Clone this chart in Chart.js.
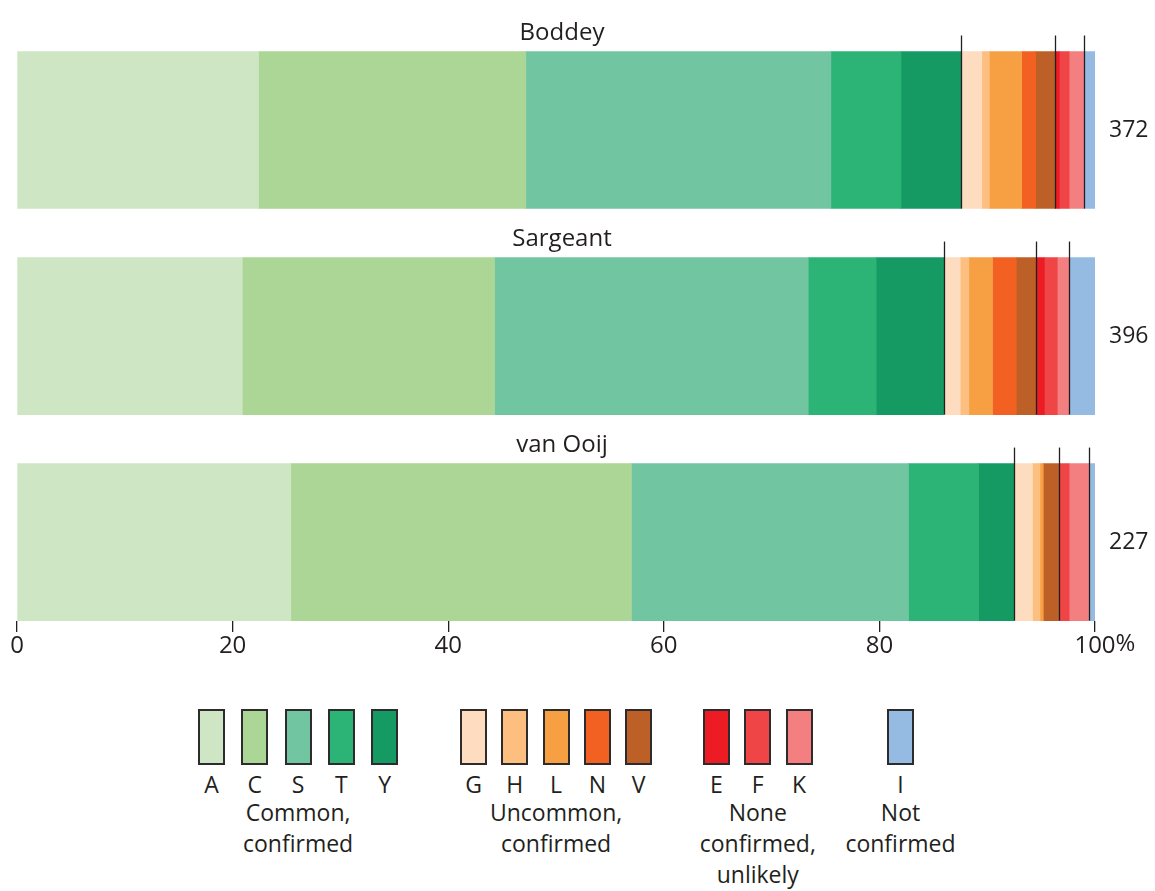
<!DOCTYPE html>
<html>
<head>
<meta charset="utf-8">
<script src="https://cdn.jsdelivr.net/npm/chart.js@4.4.1/dist/chart.umd.min.js"></script>
<style>
  body { margin: 0; background: #fff; font-family: 'Open Sans', sans-serif; color: #231f20; }
  #wrap { position: relative; width: 1155px; height: 891px; }
  #chartBox { position: absolute; left: 0; top: 0; width: 1155px; height: 661px; }
  .swatch { position: absolute; width: 23px; height: 52px; border: 2px solid #2e2b2c; }
  .letter, .group { position: absolute; font-size: 23px; white-space: nowrap; transform: translateX(-50%); text-align: center; }
  .group { line-height: 31px; }
</style>
</head>
<body>
<div id="wrap">
  <div id="chartBox"><canvas id="chart" width="1155" height="661"></canvas></div>
  <div id="legend"></div>
</div>
<script>
// Row labels and totals
const sources = ['Boddey', 'Sargeant', 'van Ooij'];
const totals = [372, 396, 227];

// Categories (in stacking order)
const letters = ['A', 'C', 'S', 'T', 'Y', 'G', 'H', 'L', 'N', 'V', 'E', 'F', 'K', 'I'];

// Percent share of each category per source
const boddey   = [22.4, 24.8, 28.3, 6.5, 5.6, 1.9, 0.7, 3.0, 1.3, 1.8, 0.4, 0.9, 1.4, 1.0];
const sargeant = [20.9, 23.4, 29.1, 6.3, 6.3, 1.5, 0.8, 2.2, 2.2, 1.8, 0.8, 1.2, 1.1, 2.4];
const vanOoij  = [25.4, 31.6, 25.7, 6.5, 3.3, 1.7, 0.7, 0.3, 0.0, 1.5, 0.0, 0.9, 1.8, 0.6];

// Groups of categories
const groupNames = [['Common,', 'confirmed'], ['Uncommon,', 'confirmed'], ['None', 'confirmed,', 'unlikely'], ['Not', 'confirmed']];
const groupSizes = [5, 5, 3, 1];

// Axis ticks
const xTicks = [0, 20, 40, 60, 80, 100];

const colors = ['#cfe6c5', '#acd695', '#71c6a1', '#2cb476', '#169a64',
                '#fddcbf', '#fdbf80', '#f79f43', '#f26122', '#bc6027',
                '#ed1c24', '#ef4547', '#f47f80', '#95bbe3'];
const ink = '#231f20';
const FONT = "'Open Sans', sans-serif";

const rows = [boddey, sargeant, vanOoij];

const datasets = letters.map((l, k) => ({
  label: l,
  data: rows.map((r, i) => ({ x: r[k], y: i })),
  backgroundColor: colors[k],
  borderWidth: 0,
  barThickness: 157
}));

// Vertical separators between groups + titles + totals
const annotate = {
  id: 'annotate',
  afterDatasetsDraw(chart) {
    const ctx = chart.ctx;
    const xs = chart.scales.x;
    const area = chart.chartArea;
    const meta = chart.getDatasetMeta(0);
    ctx.save();
    rows.forEach((r, i) => {
      const el = meta.data[i];
      const top = el.y - el.height / 2;
      const bottom = el.y + el.height / 2;
      // group boundaries
      let idx = 0;
      ctx.strokeStyle = ink;
      ctx.lineWidth = 1.3;
      for (let g = 0; g < groupSizes.length - 1; g++) {
        idx += groupSizes[g];
        const cum = r.slice(0, idx).reduce((a, b) => a + b, 0);
        const x = Math.round(xs.getPixelForValue(cum)) + 0.5;
        ctx.beginPath();
        ctx.moveTo(x, top - 16);
        ctx.lineTo(x, bottom);
        ctx.stroke();
      }
      // title
      ctx.fillStyle = ink;
      ctx.font = '24px ' + FONT;
      ctx.textAlign = 'center';
      ctx.textBaseline = 'alphabetic';
      ctx.fillText(sources[i], (area.left + area.right) / 2 + 6, top - 12);
      // total
      ctx.font = '23px ' + FONT;
      ctx.textAlign = 'left';
      ctx.textBaseline = 'middle';
      ctx.fillText(String(totals[i]), area.right + 14, el.y);
    });
    // percent sign after the last tick label
    ctx.font = '24px ' + FONT;
    const last = xTicks[xTicks.length - 1];
    const w = ctx.measureText(String(last)).width;
    ctx.textAlign = 'left';
    ctx.textBaseline = 'top';
    ctx.fillText('%', xs.getPixelForValue(last) + w / 2, xs.top + 11);
    ctx.restore();
  }
};

new Chart(document.getElementById('chart'), {
  type: 'bar',
  data: { datasets },
  options: {
    indexAxis: 'y',
    responsive: false,
    animation: false,
    layout: { padding: { left: 17, right: 60, top: 0, bottom: 0 } },
    plugins: { legend: { display: false }, tooltip: { enabled: false } },
    scales: {
      x: {
        type: 'linear',
        stacked: true,
        min: 0,
        max: 100,
        afterBuildTicks: (s) => { s.ticks = xTicks.map(v => ({ value: v })); },
        afterFit: (s) => { s.height = 40; },
        border: { display: false },
        grid: { drawOnChartArea: false, drawTicks: true, tickLength: 11, color: ink, lineWidth: 1.3 },
        ticks: { color: ink, padding: 0, font: { family: FONT, size: 24 }, maxRotation: 0 }
      },
      y: {
        type: 'linear',
        stacked: true,
        reverse: true,
        offset: false,
        min: -0.631,
        max: 2.383,
        display: false
      }
    }
  },
  plugins: [annotate]
});

// Legend (HTML)
const legend = document.getElementById('legend');
const groupLeft = [198, 460, 703, 887];
const groupStep = [43.3, 41.3, 41.3, 41];
let k = 0;
groupSizes.forEach((n, g) => {
  for (let j = 0; j < n; j++, k++) {
    const x = groupLeft[g] + j * groupStep[g];
    const sw = document.createElement('div');
    sw.className = 'swatch';
    sw.style.left = x + 'px';
    sw.style.top = '709px';
    sw.style.background = colors[k];
    legend.appendChild(sw);
    const lt = document.createElement('div');
    lt.className = 'letter';
    lt.style.left = (x + 13.5) + 'px';
    lt.style.top = '768px';
    lt.textContent = letters[k];
    legend.appendChild(lt);
  }
  const gl = document.createElement('div');
  gl.className = 'group';
  gl.style.left = (groupLeft[g] + ((n - 1) * groupStep[g] + 27) / 2) + 'px';
  gl.style.top = '797px';
  gl.innerHTML = groupNames[g].join('<br>');
  legend.appendChild(gl);
});
</script>
</body>
</html>
